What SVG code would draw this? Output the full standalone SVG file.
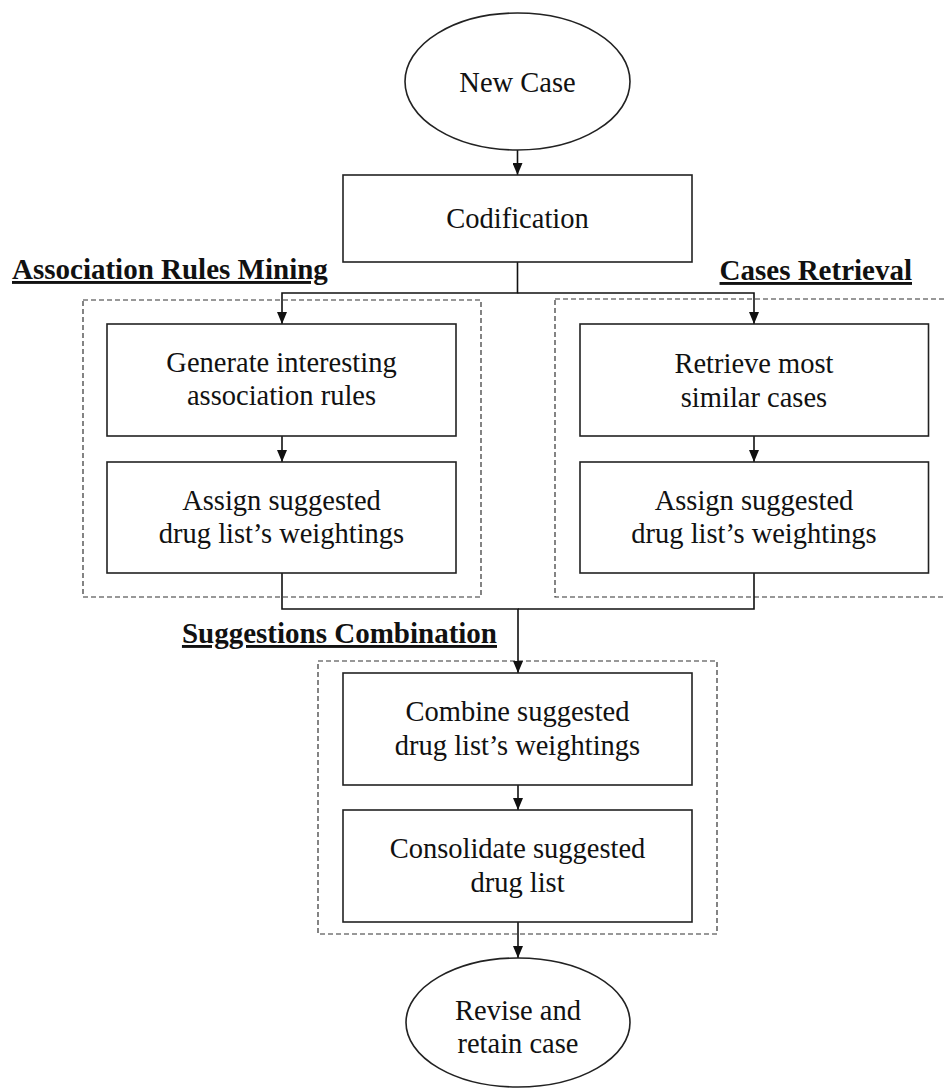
<svg xmlns="http://www.w3.org/2000/svg" width="944" height="1090" viewBox="0 0 944 1090">
<defs>
<style>
.box{fill:#fff;stroke:#222;stroke-width:1.6}
.grp{fill:none;stroke:#333;stroke-width:1.2;stroke-dasharray:5 3}
.con{fill:none;stroke:#111;stroke-width:1.6}
.t{font-size:28.5px;fill:#111;text-anchor:middle}
.lbl{font-size:29px;font-weight:bold;fill:#111;text-decoration:underline}
</style>
<marker id="arr" viewBox="0 0 12 10" refX="12" refY="5" markerWidth="12" markerHeight="10" markerUnits="userSpaceOnUse" orient="auto">
<path d="M0,0 L12,5 L0,10 z" fill="#111"/>
</marker>
</defs>
<rect width="944" height="1090" fill="#fff"/>
<g font-family="'Liberation Serif', Tinos, 'Times New Roman', 'DejaVu Serif', serif">
<g id="groups">
<rect id="grp-assoc" class="grp" x="83" y="300" width="398" height="297"/>
<rect id="grp-cases" class="grp" x="555" y="299" width="405" height="298"/>
<rect id="grp-comb" class="grp" x="318" y="661" width="399" height="273"/>
<text class="lbl" x="12" y="279">Association Rules Mining</text>
<text class="lbl" x="912" y="280" text-anchor="end">Cases Retrieval</text>
<text class="lbl" x="497" y="643" text-anchor="end">Suggestions Combination</text>
</g>

<g id="connectors">
<path class="con" d="M517.5,150 V175" marker-end="url(#arr)"/>
<path class="con" d="M517.5,262 V293 H282 V324" marker-end="url(#arr)"/>
<path class="con" d="M517.5,293 H754 V324" marker-end="url(#arr)"/>
<path class="con" d="M282,436 V462" marker-end="url(#arr)"/>
<path class="con" d="M754,436 V462" marker-end="url(#arr)"/>
<path class="con" d="M282,573 V609 H518 V673" marker-end="url(#arr)"/>
<path class="con" d="M754,573 V609 H518"/>
<path class="con" d="M518,785 V810" marker-end="url(#arr)"/>
<path class="con" d="M518,922 V958" marker-end="url(#arr)"/>
</g>

<g id="new-case">
<ellipse class="box" cx="517.5" cy="81.5" rx="112.5" ry="68.5"/>
<text class="t" x="517.5" y="92">New Case</text>
</g>
<g id="codification">
<rect class="box" x="343" y="175" width="349" height="87"/>
<text class="t" x="517.5" y="228">Codification</text>
</g>
<g id="generate-rules">
<rect class="box" x="107" y="324" width="349" height="112"/>
<text class="t" x="281.5" y="372">Generate interesting</text>
<text class="t" x="281.5" y="405">association rules</text>
</g>
<g id="assign-left">
<rect class="box" x="107" y="462" width="349" height="111"/>
<text class="t" x="281.5" y="510">Assign suggested</text>
<text class="t" x="281.5" y="543">drug list’s weightings</text>
</g>
<g id="retrieve-cases">
<rect class="box" x="580" y="324" width="348.5" height="112"/>
<text class="t" x="754" y="373">Retrieve most</text>
<text class="t" x="754" y="407">similar cases</text>
</g>
<g id="assign-right">
<rect class="box" x="580" y="462" width="348.5" height="111"/>
<text class="t" x="754" y="510">Assign suggested</text>
<text class="t" x="754" y="543">drug list’s weightings</text>
</g>
<g id="combine">
<rect class="box" x="343" y="673" width="349" height="112"/>
<text class="t" x="517.5" y="721">Combine suggested</text>
<text class="t" x="517.5" y="755">drug list’s weightings</text>
</g>
<g id="consolidate">
<rect class="box" x="343" y="810" width="349" height="112"/>
<text class="t" x="517.5" y="858">Consolidate suggested</text>
<text class="t" x="517.5" y="892">drug list</text>
</g>
<g id="revise">
<ellipse class="box" cx="518" cy="1022.5" rx="112" ry="64.5"/>
<text class="t" x="518" y="1020">Revise and</text>
<text class="t" x="518" y="1053">retain case</text>
</g>
</g>
</svg>
